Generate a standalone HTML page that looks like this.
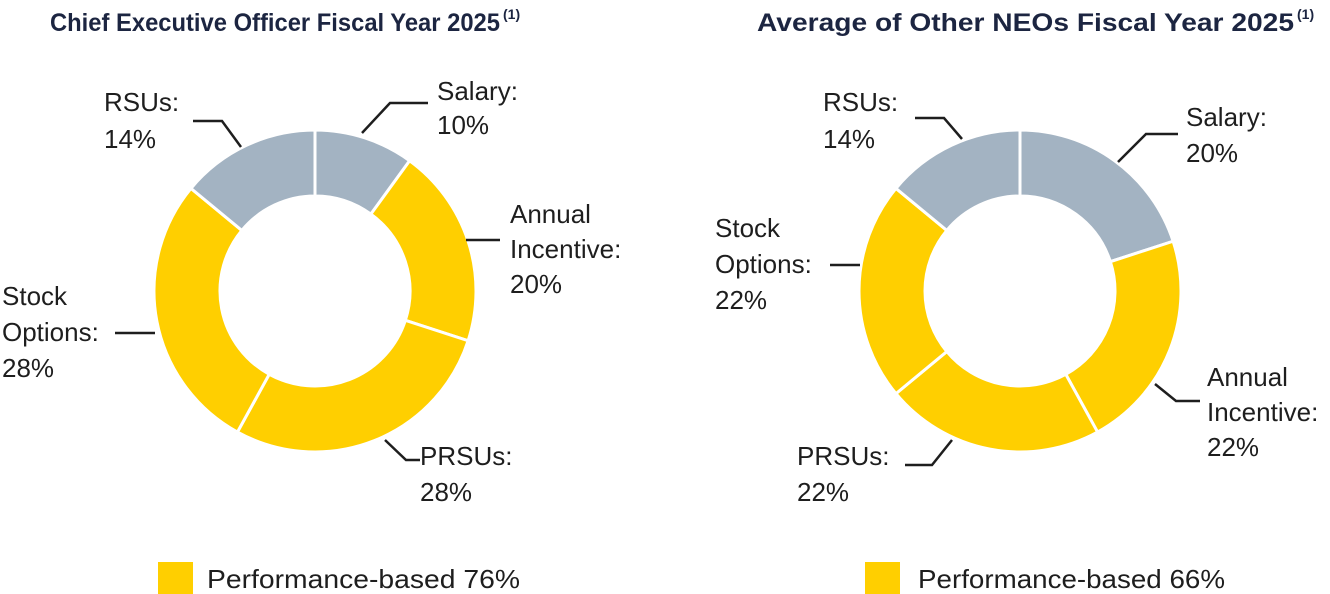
<!DOCTYPE html>
<html><head><meta charset="utf-8"><style>
body{margin:0;background:#fff;width:1330px;height:594px;overflow:hidden}
svg{display:block;font-family:"Liberation Sans",sans-serif}
.lbl{font-size:26px;fill:#1e1e1e}
.ttl{font-size:25px;font-weight:bold;fill:#1c2541}
.ldr{stroke:#1e1e1e;stroke-width:2.5;fill:none}
</style></head><body>
<svg id="chart" width="1330" height="594" viewBox="0 0 1330 594">
<text class="ttl" x="50" y="31" textLength="450" lengthAdjust="spacingAndGlyphs">Chief Executive Officer Fiscal Year 2025</text>
<text x="503" y="19" font-size="14" font-weight="bold" fill="#1c2541">(1)</text>
<text class="ttl" x="757" y="31" textLength="537" lengthAdjust="spacingAndGlyphs">Average of Other NEOs Fiscal Year 2025</text>
<text x="1297" y="19" font-size="14" font-weight="bold" fill="#1c2541">(1)</text>
<g id="ceo"></g>
<g id="neo"></g>
<g>
<path class="ldr" d="M362,133 L390,103 L428,103"/>
<text class="lbl" x="437" y="100">Salary:</text><text class="lbl" x="437" y="134">10%</text>
<path class="ldr" d="M241,147 L222,121 L193,121"/>
<text class="lbl" x="104" y="111">RSUs:</text><text class="lbl" x="104" y="148">14%</text>
<path class="ldr" d="M466,240 L500,240"/>
<text class="lbl" x="510" y="223">Annual</text><text class="lbl" x="510" y="258">Incentive:</text><text class="lbl" x="510" y="293">20%</text>
<path class="ldr" d="M155,333 L115,333"/>
<text class="lbl" x="2" y="305">Stock</text><text class="lbl" x="2" y="341">Options:</text><text class="lbl" x="2" y="377">28%</text>
<path class="ldr" d="M385,440 L406,460 L420,460"/>
<text class="lbl" x="420" y="465">PRSUs:</text><text class="lbl" x="420" y="501">28%</text>
</g>
<g>
<path class="ldr" d="M1118,162 L1146,134 L1178,134"/>
<text class="lbl" x="1186" y="126">Salary:</text><text class="lbl" x="1186" y="162">20%</text>
<path class="ldr" d="M962,139 L944,118 L915,118"/>
<text class="lbl" x="823" y="111">RSUs:</text><text class="lbl" x="823" y="148">14%</text>
<path class="ldr" d="M860,265 L830,265"/>
<text class="lbl" x="715" y="237">Stock</text><text class="lbl" x="715" y="273">Options:</text><text class="lbl" x="715" y="309">22%</text>
<path class="ldr" d="M1155,384 L1176,401 L1200,401"/>
<text class="lbl" x="1207" y="386">Annual</text><text class="lbl" x="1207" y="421">Incentive:</text><text class="lbl" x="1207" y="456">22%</text>
<path class="ldr" d="M952,440 L932,465 L905,465"/>
<text class="lbl" x="797" y="465">PRSUs:</text><text class="lbl" x="797" y="501">22%</text>
</g>
<rect x="158" y="562" width="35" height="32" fill="#ffcf00"/>
<text class="lbl" x="207" y="588" textLength="313" lengthAdjust="spacingAndGlyphs">Performance-based 76%</text>
<rect x="865" y="562" width="35" height="32" fill="#ffcf00"/>
<text class="lbl" x="918" y="588" textLength="307" lengthAdjust="spacingAndGlyphs">Performance-based 66%</text>
</svg>
<script>
const categories = ["Salary","Annual Incentive","PRSUs","Stock Options","RSUs"];
const ceoValues = [10,20,28,28,14];
const neoValues = [20,22,22,22,14];
const performanceBased = [false,true,true,true,false];
const NS="http://www.w3.org/2000/svg";
function drawDonut(gid, values, cx, cy, ro, ri, prefix){
  const g=document.getElementById(gid);
  const total=values.reduce((a,b)=>a+b,0);
  let acc=0;
  values.forEach((v,i)=>{
    const a0=acc/total*2*Math.PI, a1=(acc+v)/total*2*Math.PI; acc+=v;
    const pt=(r,a)=>[cx+r*Math.sin(a), cy-r*Math.cos(a)];
    const large=(a1-a0)>Math.PI?1:0;
    const p1=pt(ro,a0),p2=pt(ro,a1),p3=pt(ri,a1),p4=pt(ri,a0);
    const p=document.createElementNS(NS,"path");
    p.setAttribute("d",`M${p1[0]},${p1[1]} A${ro},${ro} 0 ${large} 1 ${p2[0]},${p2[1]} L${p3[0]},${p3[1]} A${ri},${ri} 0 ${large} 0 ${p4[0]},${p4[1]} Z`);
    p.setAttribute("fill",performanceBased[i]?"#ffcf00":"#a3b3c2");
    p.setAttribute("stroke","#fff");
    p.setAttribute("stroke-width","3");
    
    
    g.appendChild(p);
  });
}
drawDonut("ceo",ceoValues,315,291,161,95,"ceo");
drawDonut("neo",neoValues,1020,291,161,95,"neo");
</script>
</body></html>
